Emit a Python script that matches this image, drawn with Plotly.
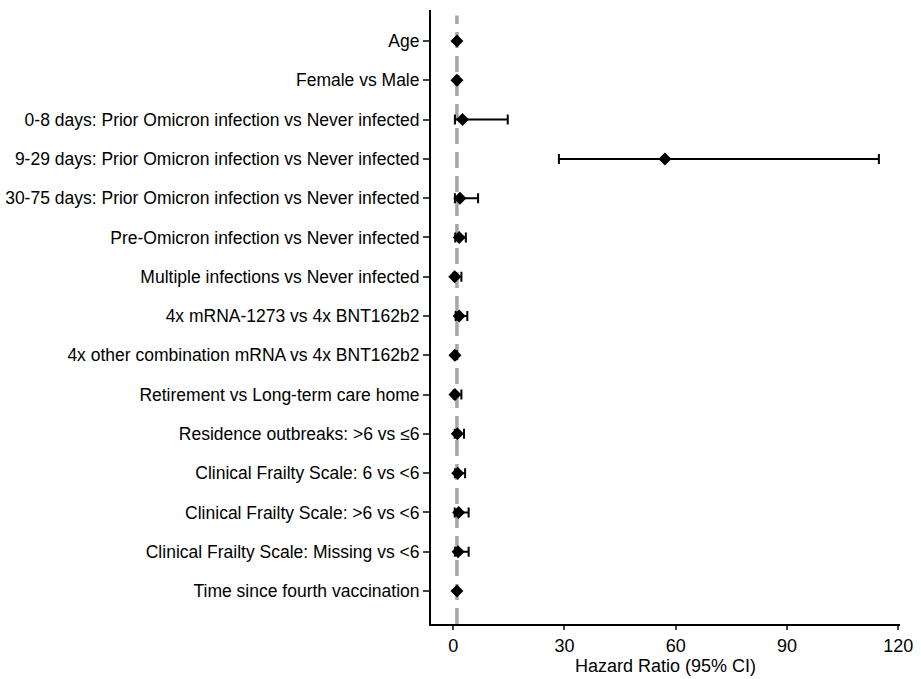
import plotly.graph_objects as go

labels = [
    "Age",
    "Female vs Male",
    "0-8 days: Prior Omicron infection vs Never infected",
    "9-29 days: Prior Omicron infection vs Never infected",
    "30-75 days: Prior Omicron infection vs Never infected",
    "Pre-Omicron infection vs Never infected",
    "Multiple infections vs Never infected",
    "4x mRNA-1273 vs 4x BNT162b2",
    "4x other combination mRNA vs 4x BNT162b2",
    "Retirement vs Long-term care home",
    "Residence outbreaks: >6 vs \u22646",
    "Clinical Frailty Scale: 6 vs <6",
    "Clinical Frailty Scale: >6 vs <6",
    "Clinical Frailty Scale: Missing vs <6",
    "Time since fourth vaccination",
]
hr = [1.0, 1.0, 2.5, 57.1, 1.8, 1.6, 0.4, 1.6, 0.45, 0.45, 1.1, 1.2, 1.45, 1.3, 1.0]
ci_low = [0.98, 0.7, 0.45, 28.5, 0.45, 0.55, 0.1, 0.65, 0.2, 0.1, 0.4, 0.45, 0.4, 0.45, 0.98]
ci_high = [1.02, 1.35, 14.7, 114.8, 6.7, 3.4, 2.2, 3.8, 0.95, 2.2, 2.9, 3.2, 4.15, 4.15, 1.02]
x_ticks = [0, 30, 60, 90, 120]

n = len(labels)
ypos = [n - 1 - i for i in range(n)]

fig = go.Figure()
fig.add_shape(type="line", x0=1, x1=1, y0=-0.84, y1=n - 1 + 0.65, xref="x", yref="y",
              line=dict(color="#a6a6a6", width=3.5, dash="16px,8px"), layer="below")
fig.add_trace(go.Scatter(
    x=hr, y=ypos, mode="markers",
    marker=dict(symbol="diamond", size=10, color="black"),
    error_x=dict(type="data", symmetric=False,
                 array=[h - m for h, m in zip(ci_high, hr)],
                 arrayminus=[m - l for m, l in zip(hr, ci_low)],
                 color="black", thickness=2, width=5),
    showlegend=False,
))
fig.update_layout(
    width=921, height=679,
    margin=dict(l=431, r=21, t=10, b=55),
    plot_bgcolor="white", paper_bgcolor="white",
    font=dict(family="Arial, Liberation Sans, sans-serif", color="black"),
    xaxis=dict(range=[-6, 120.5], tickvals=x_ticks, ticks="outside", ticklen=4, tickwidth=2,
               showline=True, linecolor="black", linewidth=2, showgrid=False, zeroline=False,
               automargin=False,
               tickfont=dict(size=18), title=dict(text="Hazard Ratio (95% CI)", font=dict(size=18), standoff=4)),
    yaxis=dict(range=[-0.84, n - 1 + 0.79], tickvals=ypos, ticktext=labels, ticks="outside",
               ticklen=6, tickwidth=2, showline=True, linecolor="black", linewidth=2,
               automargin=False,
               showgrid=False, zeroline=False, tickfont=dict(size=17.5)),
)
fig.write_html("out.html")
